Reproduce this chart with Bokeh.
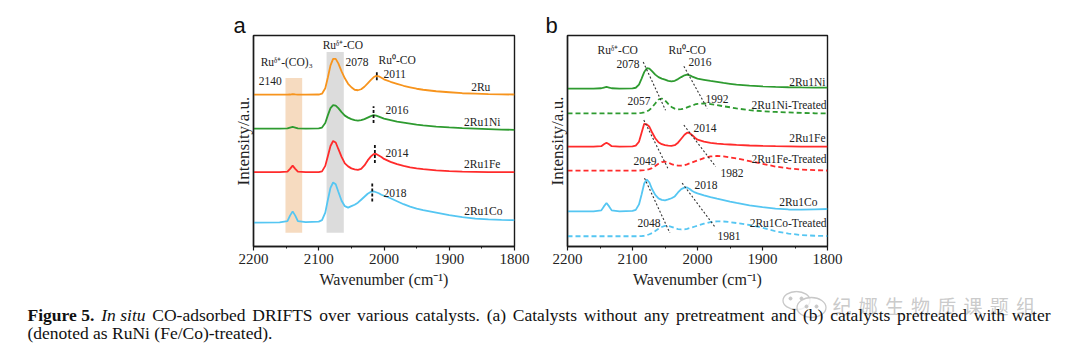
from bokeh.plotting import figure
from bokeh.layouts import column, row
from bokeh.models import Range1d, FixedTicker
from bokeh.embed import file_html
from bokeh.resources import INLINE
from bokeh.core.properties import value

# ---------------- data ----------------
wavenumber = [2200, 2160, 2148, 2144, 2140, 2136, 2132, 2120, 2100, 2095,
              2090, 2086, 2082, 2078, 2074, 2070, 2065, 2060, 2055, 2050,
              2045, 2040, 2035, 2030, 2025, 2020, 2016, 2012, 2008, 2004,
              2000, 1990, 1980, 1970, 1960, 1950, 1940, 1920, 1900, 1880,
              1860, 1840, 1820, 1800]

# panel a (stack offsets + intensity above baseline)
a_labels = ["2Ru", "2Ru1Ni", "2Ru1Fe", "2Ru1Co"]
a_offsets = [152.5, 118.5, 74.7, 24.3]
a_2Ru = [0, 0, 0, 0.2, 0.7, 0.3, 0, 0, 0.2, 1,
         6.5, 17.5, 29.5, 36, 36, 31.5, 23.5, 16.5, 11, 7.5,
         5, 4.5, 5.5, 8, 11.5, 15, 17.5, 19, 18.5, 17,
         15.5, 13, 11, 9, 7.5, 6, 5, 3.5, 2.5, 1.5,
         1, 0.5, 0.3, 0.2]
a_2Ru1Ni = [0, 0, 0.2, 1, 1.7, 1, 0.2, 0, 0.2, 1,
            5.5, 13.5, 20.5, 23.5, 23, 20.5, 16.5, 13, 11, 9.5,
            8.5, 8, 8.5, 9.5, 11, 12.5, 13.5, 13, 12, 11,
            10, 8.5, 7, 6, 5, 4, 3.2, 2, 1.2, 0.5,
            0, -0.5, -1, -1.3]
a_2Ru1Fe = [0, 0, 0.5, 3.3, 6.6, 3.3, 0.5, 0, 0, 0.8,
            6.3, 16.3, 26.3, 31.3, 29.8, 23.3, 15.3, 8.8, 5.8, 3.8,
            2.8, 2.3, 3.3, 6.8, 11.8, 15.8, 18, 18.3, 16.8, 15.3,
            13.3, 10.3, 8, 6.3, 4.8, 3.8, 3, 1.8, 1.1, 0.5,
            0.3, 0.1, 0, 0]
a_2Ru1Co = [-0.3, 0, 1.2, 6.7, 11, 6.7, 1.2, 0.2, 0.7, 2.2,
            9.7, 22.7, 34.7, 40, 38.2, 30.7, 21.7, 16.2, 14.7, 16.2,
            17.7, 19.7, 22.7, 25.7, 28.7, 30.7, 31, 30.2, 29.2, 27.7,
            26.7, 24.2, 21.2, 18.2, 15.7, 13.7, 12.2, 9.7, 7.2, 5.2,
            3.7, 2.9, 2.4, 2.2]

# panel b
b_labels = ["2Ru1Ni", "2Ru1Ni-Treated", "2Ru1Fe", "2Ru1Fe-Treated", "2Ru1Co", "2Ru1Co-Treated"]
b_offsets = [158.7, 133.7, 100.3, 76.3, 35.3, 10.3]
b_2Ru1Ni = [0, 0, 0.3, 1, 1.6, 1, 0.3, 0, 0.2, 0.8,
            4, 10, 16.5, 20.5, 20, 17.5, 14, 11.5, 10, 9,
            7.8, 7.2, 7.8, 9.5, 11.5, 13.3, 14, 13.3, 12, 11,
            10, 8.8, 7.6, 6.6, 5.6, 4.8, 4, 3, 2.2, 1.6,
            1.3, 1.1, 1, 1]
b_2Ru1Ni_T = [0, 0, 0, 0, 0.3, 0, 0, 0, 0, 0,
              0.2, 0.5, 1, 2, 3.5, 6, 10, 14, 15, 13,
              9.5, 6.5, 4.8, 4, 4.3, 5, 6, 7, 8, 9,
              9.6, 10, 9.4, 8.4, 7.2, 6.2, 5, 3.3, 2.2, 1.5,
              1, 0.5, 0.2, 0]
b_2Ru1Fe = [0, 0, 0.5, 2.5, 4, 2.5, 0.5, 0, 0.2, 1,
            5, 14, 23, 22.5, 20, 14.5, 8.5, 4.5, 2.5, 1.5,
            1, 0.8, 1.5, 4, 8, 12, 14, 13.5, 11.5, 9,
            7, 5, 3.8, 3.1, 2.6, 2.2, 1.8, 1.2, 0.8, 0.5,
            0.3, 0.1, 0, 0]
b_2Ru1Fe_T = [0, 0, 0, 0, 0, 0, 0, 0, 0, 0,
              0, 0.2, 0.4, 0.8, 1.5, 2.5, 4.5, 6.8, 8.5, 9,
              8, 6.5, 5.5, 5, 5, 5.5, 6.3, 7.2, 8.2, 9.2,
              10.2, 12.5, 14.2, 14.7, 14.2, 13.3, 12.2, 9.5, 6.8, 4,
              2.3, 1, 0.4, 0]
b_2Ru1Co = [0, 0, 1, 5, 8.4, 5, 1, 0, 0.5, 1.5,
            7, 17, 28, 32, 29, 22.5, 16.5, 13, 11.5, 11,
            12, 13.2, 15, 19, 22.3, 23.8, 24, 22.5, 20.5, 19,
            18, 16, 14.2, 12.7, 11.3, 9.8, 8.5, 6, 4.2, 2.8,
            1.9, 1.8, 2.1, 2.4]
b_2Ru1Co_T = [0, 0, 0, 0, 0, 0, 0, 0, 0, 0,
              0, 0.2, 0.5, 1, 2, 3.2, 5.2, 7.5, 9.3, 10.5,
              10.5, 9.5, 8.2, 7.2, 6.8, 7, 7.5, 8.2, 9, 9.8,
              10.6, 12.6, 14.3, 15, 14.8, 14.2, 13.3, 11.3, 8.5, 5,
              2.7, 1.2, 0.5, 0.2]

x_ticks = [2200, 2100, 2000, 1900, 1800]
x_minor = [2150, 2050, 1950, 1850]

caption_line1 = [("Figure 5.", "bold"), ("In situ", "italic"), ("CO-adsorbed", "normal"),
                 ("DRIFTS", "normal"), ("over", "normal"), ("various", "normal"),
                 ("catalysts.", "normal"), ("(a)", "normal"), ("Catalysts", "normal"),
                 ("without", "normal"), ("any", "normal"), ("pretreatment", "normal"),
                 ("and", "normal"), ("(b)", "normal"), ("catalysts", "normal"),
                 ("pretreated", "normal"), ("with", "normal"), ("water", "normal")]
caption_line2 = "(denoted as RuNi (Fe/Co)-treated)."
watermark = "纪娜生物质课题组"

# ---------------- style ----------------
SERIF = "Liberation Serif"
ORANGE = "#F7941D"
GREEN = "#2E9B30"
RED = "#FF2B2B"
BLUE = "#55C6F2"
TXT = "#222222"
TOP_H = 290


def base_fig(bl, br, letter, letter_offset):
    p = figure(width=540, height=TOP_H, x_range=Range1d(2200, 1800), y_range=Range1d(0, 212),
               output_backend="svg", toolbar_location=None, title=letter,
               min_border_left=bl, min_border_right=br, min_border_top=35,
               min_border_bottom=TOP_H - 247)
    p.title.align = "left"
    p.title.offset = letter_offset
    p.title.text_font = "Liberation Sans"
    p.title.text_font_size = "22px"
    p.title.text_font_style = "normal"
    p.title.text_color = "#111111"
    p.title.standoff = -5
    p.grid.visible = False
    p.outline_line_color = "#1a1a1a"
    p.outline_line_width = 1.4
    p.outline_line_alpha = 1
    xa = p.xaxis[0]
    xa.ticker = FixedTicker(ticks=x_ticks, minor_ticks=x_minor)
    xa.major_tick_in = 0
    xa.major_tick_out = 4
    xa.minor_tick_in = 0
    xa.minor_tick_out = 2
    xa.axis_line_color = "#1a1a1a"
    xa.axis_line_width = 1.4
    xa.major_tick_line_color = "#1a1a1a"
    xa.minor_tick_line_color = "#1a1a1a"
    xa.major_tick_line_width = 1.2
    xa.major_label_text_font = SERIF
    xa.major_label_text_font_size = "15px"
    xa.major_label_text_color = TXT
    xa.major_label_standoff = 3
    xa.axis_label = "Wavenumber (cm\u207b\u00b9)"
    xa.axis_label_text_font = SERIF
    xa.axis_label_text_font_size = "16px"
    xa.axis_label_text_font_style = "normal"
    xa.axis_label_text_color = TXT
    xa.axis_label_standoff = 4
    ya = p.yaxis[0]
    ya.ticker = FixedTicker(ticks=[])
    ya.major_tick_out = 0
    ya.minor_tick_out = 0
    ya.axis_line_color = "#1a1a1a"
    ya.axis_line_width = 1.4
    ya.axis_label = "Intensity/a.u."
    ya.axis_label_text_font = SERIF
    ya.axis_label_text_font_size = "17px"
    ya.axis_label_text_font_style = "normal"
    ya.axis_label_text_color = TXT
    ya.axis_label_standoff = 1
    return p


def add_texts(p, xs, ys, texts, align):
    p.text(x=xs, y=ys, text=texts, text_font=value(SERIF), text_font_size="11.5px",
           text_align=align, text_baseline="middle", text_color=TXT)


# ---------------- panel a ----------------
pa = base_fig(253, 26, "a", -20)
pa.quad(left=[2151], right=[2125.4], bottom=[13.7], top=[169.3], fill_color="#F6D9BD",
        fill_alpha=0.95, line_color=None)
pa.quad(left=[2088], right=[2061.6], bottom=[13.7], top=[195.3], fill_color="#DADADA",
        fill_alpha=0.95, line_color=None)

a_series = [a_2Ru, a_2Ru1Ni, a_2Ru1Fe, a_2Ru1Co]
a_colors = [ORANGE, GREEN, RED, BLUE]
for vals, off, col in zip(a_series, a_offsets, a_colors):
    pa.line(wavenumber, [off + v for v in vals], line_color=col, line_width=1.8)

# dashed peak markers
pa.segment(x0=[2011, 2016, 2014, 2018], y0=[167, 124, 84, 45.3],
           x1=[2011, 2016, 2014, 2018], y1=[176, 141, 102, 64],
           line_color="#111111", line_width=1.8, line_dash="3 2")

add_texts(pa, [2189, 2192, 2094, 2059, 2008.4, 2000.8, 1997.7, 1997.7, 2000.8],
          [185.3, 166, 202, 185.3, 187, 173, 137, 94.3, 54],
          ["Ru\u1d5f\u207a-(CO)\u2083", "2140", "Ru\u1d5f\u207a-CO", "2078", "Ru\u2070-CO",
           "2011", "2016", "2014", "2018"], "left")
add_texts(pa, [1837, 1821.5, 1821.5, 1818.4], [160, 125.3, 83, 36], a_labels, "right")

# ---------------- panel b ----------------
pb = base_fig(27, 253, "b", -22)
b_series = [b_2Ru1Ni, b_2Ru1Ni_T, b_2Ru1Fe, b_2Ru1Fe_T, b_2Ru1Co, b_2Ru1Co_T]
b_colors = [GREEN, GREEN, RED, RED, BLUE, BLUE]
b_dash = ["solid", "5 3", "solid", "5 3", "solid", "5 3"]
for vals, off, col, dsh in zip(b_series, b_offsets, b_colors, b_dash):
    pb.line(wavenumber, [off + v for v in vals], line_color=col, line_width=1.8, line_dash=dsh)

# dotted shift guides
pb.segment(x0=[2083.5, 2021, 2082.6, 2021, 2081.5, 2023.6],
           y0=[185.3, 181, 127, 122, 68.7, 63.7],
           x1=[2049.2, 1985, 2045.7, 1972, 2042.6, 1972],
           y1=[137, 138.7, 78.7, 80.3, 13.7, 18.7],
           line_color="#333333", line_width=1.1, line_dash="2 2")

add_texts(pb, [2153.8, 2044.6, 2124.6, 2013.8, 2107.7, 1987.7, 2006, 2098.5, 1964.6, 2004.6,
               2092.3, 1969.2],
          [197, 197.7, 183.7, 185.3, 146.3, 147.7, 119, 86.3, 73.7, 62, 23.7, 10.3],
          ["Ru\u1d5f\u207a-CO", "Ru\u2070-CO", "2078", "2016", "2057", "1992", "2014", "2049",
           "1982", "2018", "2048", "1981"], "left")
add_texts(pb, [1803, 1801.5, 1803, 1801.5, 1815.4, 1801.5],
          [165.3, 142, 108.7, 87.7, 44.3, 23.7], b_labels, "right")

# ---------------- caption ----------------
CAP_H = 352 - TOP_H
pc = figure(width=1080, height=CAP_H, x_range=Range1d(0, 1080), y_range=Range1d(CAP_H, 0),
            output_backend="svg", toolbar_location=None, min_border=0,
            x_axis_location=None, y_axis_location=None)
pc.grid.visible = False
pc.outline_line_color = None

# Times-metric advance widths (1/1000 em) for justified placement
W = {" ": 250, "a": 444, "b": 500, "c": 444, "d": 500, "e": 444, "f": 333, "g": 500,
     "h": 500, "i": 278, "j": 278, "k": 500, "l": 278, "m": 778, "n": 500, "o": 500,
     "p": 500, "q": 500, "r": 333, "s": 389, "t": 278, "u": 500, "v": 500, "w": 722,
     "x": 500, "y": 500, "z": 444, "C": 667, "D": 722, "F": 556, "I": 333, "O": 722,
     "R": 667, "S": 556, "T": 611, "5": 500, ".": 250, "(": 333, ")": 333, "-": 333}
WB = dict(W, F=611, u=556, r=444)
CAP_FS = 17.5


def word_w(word, style):
    tbl = WB if style == "bold" else W
    return sum(tbl.get(ch, 500) for ch in word) / 1000.0 * CAP_FS


x_start, x_end = 27, 1050
widths = [word_w(w, s) for w, s in caption_line1]
gap = (x_end - x_start - sum(widths)) / (len(caption_line1) - 1)
xs, cur = [], x_start
for wd in widths:
    xs.append(cur)
    cur += wd + gap
line1_y = 314 - TOP_H
line2_y = 332 - TOP_H

# watermark (drawn first, sits behind caption text)
wm_y = 305 - TOP_H
pc.ellipse(x=[796, 811], y=[wm_y - 5, wm_y + 2], width=[27, 29], height=[18, 20], fill_color="white",
           fill_alpha=0.75, line_color="#c8c8c8", line_width=1.3)
pc.scatter(x=[790, 801, 806, 816], y=[wm_y - 7, wm_y - 7, wm_y + 1, wm_y + 1], size=3, color="#c8c8c8")
pc.text(x=[832 + 26.2 * i for i in range(len(watermark))], y=[wm_y] * len(watermark),
        text=list(watermark), text_font=value("Noto Sans CJK SC"), text_font_size="19px",
        text_baseline="middle", text_align="left", text_color="#c4c4c4", text_alpha=0.9)

for style in ("normal", "bold", "italic"):
    idx = [i for i, (w, s) in enumerate(caption_line1) if s == style]
    pc.text(x=[xs[i] for i in idx], y=[line1_y] * len(idx), text=[caption_line1[i][0] for i in idx],
            text_font=value(SERIF), text_font_size=f"{CAP_FS}px", text_font_style=style,
            text_baseline="middle", text_align="left", text_color="#111111")
pc.text(x=[x_start], y=[line2_y], text=[caption_line2], text_font=value(SERIF),
        text_font_size=f"{CAP_FS}px", text_baseline="middle", text_align="left", text_color="#111111")

layout = column(row(pa, pb, spacing=0), pc, spacing=0)
open("out.html", "w").write(file_html(layout, INLINE))
